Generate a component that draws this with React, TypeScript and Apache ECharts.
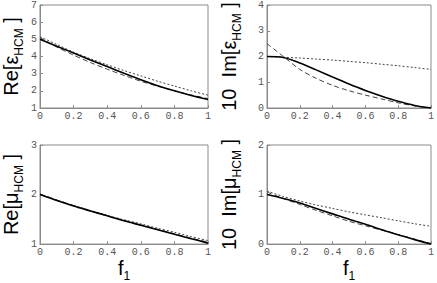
import React, { useEffect, useRef } from "react";
import * as echarts from "echarts";

const fValues = [0, 0.1, 0.2, 0.3, 0.4, 0.5, 0.6, 0.7, 0.8, 0.9, 1];

// Re[eps_HCM]
const reEpsSolid = [5.0, 4.6, 4.2, 3.8, 3.42, 3.02, 2.64, 2.3, 2.0, 1.73, 1.5];
const reEpsDashed = [5.1, 4.55, 4.08, 3.65, 3.26, 2.9, 2.56, 2.27, 2.0, 1.76, 1.55];
const reEpsDotted = [5.15, 4.7, 4.25, 3.87, 3.52, 3.18, 2.87, 2.56, 2.28, 2.0, 1.75];

// 10 Im[eps_HCM]
const imEpsSolid = [2.0, 1.96, 1.75, 1.48, 1.2, 0.93, 0.68, 0.46, 0.26, 0.1, 0.0];
const imEpsDashed = [2.5, 2.0, 1.5, 1.15, 0.88, 0.67, 0.5, 0.35, 0.2, 0.08, 0.0];
const imEpsDotted = [2.0, 1.97, 1.94, 1.9, 1.86, 1.81, 1.76, 1.7, 1.64, 1.57, 1.5];

// Re[mu_HCM]
const reMuSolid = [2.0, 1.88, 1.77, 1.67, 1.57, 1.47, 1.38, 1.29, 1.2, 1.11, 1.02];
const reMuDashed = [2.01, 1.89, 1.78, 1.67, 1.57, 1.48, 1.39, 1.3, 1.21, 1.12, 1.04];
const reMuDotted = [2.01, 1.89, 1.78, 1.68, 1.58, 1.49, 1.41, 1.32, 1.24, 1.15, 1.07];

// 10 Im[mu_HCM]
const imMuSolid = [1.0, 0.92, 0.83, 0.72, 0.61, 0.5, 0.4, 0.29, 0.19, 0.09, 0.0];
const imMuDashed = [1.05, 0.92, 0.8, 0.68, 0.57, 0.46, 0.37, 0.28, 0.19, 0.1, 0.01];
const imMuDotted = [1.07, 0.96, 0.87, 0.79, 0.72, 0.65, 0.59, 0.53, 0.47, 0.41, 0.36];

const yRanges = [
  [1, 7],
  [0, 4],
  [1, 3],
  [0, 2],
];
const yNames = [
  "{a|Re[ε}{s|HCM}{a| ]}",
  "{a|10  Im[ε}{s|HCM}{a| ]}",
  "{a|Re[μ}{s|HCM}{a| ]}",
  "{a|10  Im[μ}{s|HCM}{a| ]}",
];
const xName = "{a|f}{s|1}";

const panelData = [
  [reEpsSolid, reEpsDashed, reEpsDotted],
  [imEpsSolid, imEpsDashed, imEpsDotted],
  [reMuSolid, reMuDashed, reMuDotted],
  [imMuSolid, imMuDashed, imMuDotted],
];

export default function App() {
  const ref = useRef<HTMLDivElement>(null);
  useEffect(() => {
    if (!ref.current) return;
    const chart = echarts.init(ref.current, null, { renderer: "svg" });
    const grids = [
      { left: 40, top: 5, width: 168, height: 103 },
      { left: 267, top: 5, width: 165, height: 103 },
      { left: 40, top: 145, width: 168, height: 103 },
      { left: 267, top: 145, width: 165, height: 103 },
    ].map((g) => ({ ...g, show: true, borderColor: "#8a8a8a", borderWidth: 1, backgroundColor: "transparent" }));

    const rich = {
      a: { fontFamily: "Liberation Sans", fontSize: 20, color: "#000", lineHeight: 24, verticalAlign: "top" },
      s: { fontFamily: "Liberation Sans", fontSize: 12, color: "#000", lineHeight: 6, verticalAlign: "bottom" },
    };
    const tickLabel = { fontFamily: "Liberation Mono", fontSize: 10, color: "#555", margin: 3 };
    const axisLine = { show: true, lineStyle: { color: "#8a8a8a", width: 1 } };
    const axisTick = { show: true, inside: true, length: 3, lineStyle: { color: "#8a8a8a" } };

    const xAxis = grids.map((_, i) => ({
      type: "value",
      gridIndex: i,
      min: 0,
      max: 1,
      interval: 0.2,
      axisLine,
      axisTick,
      splitLine: { show: false },
      axisLabel: {
        ...tickLabel,
        formatter: (v: number) => (v === 0 ? "0" : v === 1 ? "1" : v.toFixed(1)),
      },
      name: i >= 2 ? xName : "",
      nameLocation: "middle",
      nameGap: 12,
      nameTextStyle: { rich },
    }));
    const yAxis = grids.map((_, i) => ({
      type: "value",
      gridIndex: i,
      min: yRanges[i][0],
      max: yRanges[i][1],
      interval: 1,
      axisLine,
      axisTick,
      splitLine: { show: false },
      axisLabel: { ...tickLabel },
      name: yNames[i],
      nameLocation: "middle",
      nameRotate: 90,
      nameGap: i % 2 === 0 ? 15 : 24,
      nameTextStyle: { rich },
    }));

    const styles = [
      { color: "#000", width: 1.6, type: "solid" },
      { color: "#444", width: 1, type: [5, 3] },
      { color: "#444", width: 1, type: [2, 2] },
    ];
    const series: any[] = [];
    panelData.forEach((curves, i) => {
      curves.forEach((vals, k) => {
        series.push({
          type: "line",
          xAxisIndex: i,
          yAxisIndex: i,
          data: fValues.map((f, j) => [f, vals[j]]),
          showSymbol: false,
          smooth: 0.3,
          lineStyle: styles[k],
          z: k === 0 ? 3 : 2,
        });
      });
    });

    chart.setOption({ animation: false, grid: grids, xAxis, yAxis, series });
    return () => chart.dispose();
  }, []);
  return (
    <div
      ref={ref}
      style={{ position: "fixed", left: 0, top: 0, width: 437, height: 283, background: "#fff" }}
    />
  );
}
